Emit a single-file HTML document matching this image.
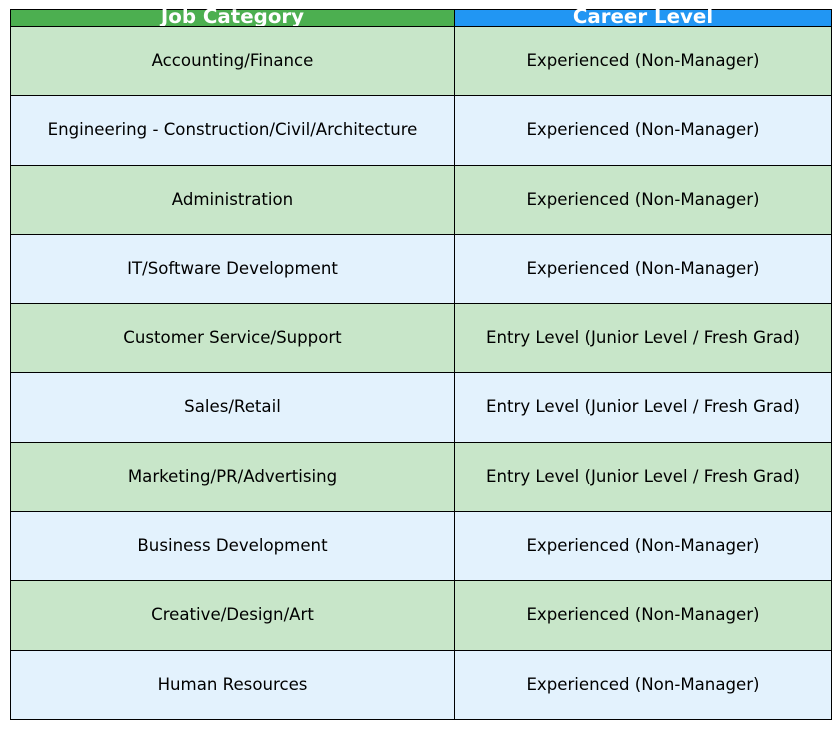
<!DOCTYPE html>
<html><head><style>
body{margin:0;width:840px;height:729px;background:#fff;position:relative;font-family:"DejaVu Sans","Liberation Sans",sans-serif;overflow:hidden}
.c{position:absolute;box-sizing:border-box;border:1px solid #000;display:flex;align-items:center;justify-content:center;font-size:16.6px;color:#000;white-space:nowrap;padding-bottom:2px}
.h{color:#fff;font-weight:bold;font-size:19.8px;overflow:visible;padding-bottom:3px}
</style></head><body>
<div class="c h" style="left:10px;top:9px;width:445px;height:18px;background:#4CAF50">Job Category</div>
<div class="c h" style="left:454px;top:9px;width:378px;height:18px;background:#2196F3">Career Level</div>
<div id="rows"></div>
<script>
var d=[["Accounting/Finance","Experienced (Non-Manager)"],["Engineering - Construction/Civil/Architecture","Experienced (Non-Manager)"],["Administration","Experienced (Non-Manager)"],["IT/Software Development","Experienced (Non-Manager)"],["Customer Service/Support","Entry Level (Junior Level / Fresh Grad)"],["Sales/Retail","Entry Level (Junior Level / Fresh Grad)"],["Marketing/PR/Advertising","Entry Level (Junior Level / Fresh Grad)"],["Business Development","Experienced (Non-Manager)"],["Creative/Design/Art","Experienced (Non-Manager)"],["Human Resources","Experienced (Non-Manager)"]];
var y=[26,95,165,234,303,372,442,511,580,650,719],h="";
for(var i=0;i<10;i++){var bg=i%2?"#E3F2FD":"#C8E6C9";var t=y[i],hh=y[i+1]-y[i]+1;
h+='<div class="c" style="left:10px;top:'+t+'px;width:445px;height:'+hh+'px;background:'+bg+'">'+d[i][0]+'</div>';
h+='<div class="c" style="left:454px;top:'+t+'px;width:378px;height:'+hh+'px;background:'+bg+'">'+d[i][1]+'</div>';}
document.getElementById("rows").innerHTML=h;
</script>
</body></html>
